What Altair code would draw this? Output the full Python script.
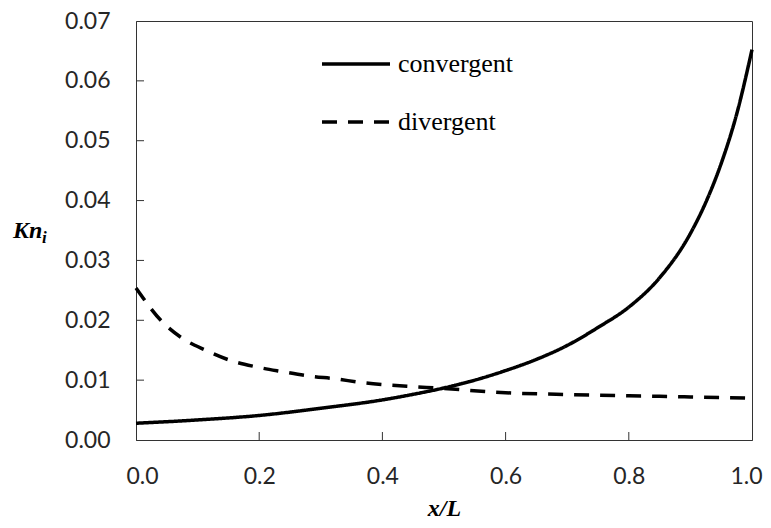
import altair as alt
import pandas as pd

# ---- data ----
series_names = ["convergent", "divergent"]

conv_x = [0.0, 0.1, 0.2, 0.3, 0.4, 0.45, 0.5, 0.55, 0.6, 0.65, 0.7, 0.75, 0.8,
          0.85, 0.9, 0.925, 0.95, 0.975, 1.0]
conv_y = [0.0028, 0.00335, 0.0041, 0.0053, 0.0067, 0.00763, 0.0087, 0.0100, 0.0116,
          0.01347, 0.0158, 0.0188, 0.0222, 0.0271, 0.0345, 0.0397, 0.0462, 0.0544, 0.0652]

div_x = [0.0, 0.043, 0.075, 0.113, 0.153, 0.196, 0.239, 0.280, 0.325, 0.366, 0.409,
         0.454, 0.50, 0.60, 0.70, 0.80, 0.90, 1.0]
div_y = [0.0254, 0.0197, 0.0170, 0.0150, 0.0133, 0.0122, 0.0114, 0.0107, 0.0102, 0.0096,
         0.0092, 0.0089, 0.0086, 0.0079, 0.0076, 0.0074, 0.0072, 0.0070]

y_ticks = [0.0, 0.01, 0.02, 0.03, 0.04, 0.05, 0.06, 0.07]
x_ticks = [0.0, 0.2, 0.4, 0.6, 0.8, 1.0]

df = pd.concat([
    pd.DataFrame({"x": conv_x, "y": conv_y, "series": series_names[0]}),
    pd.DataFrame({"x": div_x, "y": div_y, "series": series_names[1]}),
], ignore_index=True)

W, H = 616, 419
TICK = 8

xs = alt.Scale(domain=[0, 1], nice=False, zero=False)
ys = alt.Scale(domain=[0, 0.07], nice=False)

x_axis = alt.Axis(values=x_ticks, format=".1f", title="x/L", labelPadding=25,
                  labelFlush=True, labelFlushOffset=10, titlePadding=8,
                  titleFont="Liberation Serif", titleFontSize=24, titleFontWeight="bold",
                  titleFontStyle="italic", titleColor="black")
y_axis = alt.Axis(values=y_ticks, format=".2f", title=None, labelPadding=26,
                  labelFlush=False)

lines = alt.Chart(df).mark_line(color="black", strokeWidth=3.5, interpolate="monotone").encode(
    x=alt.X("x:Q", scale=xs, axis=x_axis),
    y=alt.Y("y:Q", scale=ys, axis=y_axis),
    strokeDash=alt.StrokeDash(
        "series:N",
        scale=alt.Scale(domain=series_names, range=[[1, 0], [15, 11]]),
        legend=alt.Legend(
            title=None, orient="none", legendX=184, legendY=30,
            symbolType="stroke", symbolSize=4624, symbolStrokeWidth=3.5,
            symbolStrokeColor="black", labelFont="Liberation Serif",
            labelFontSize=26, labelColor="black", labelOffset=6,
            clipHeight=26, rowPadding=32, padding=0, symbolOffset=0,
        ),
    ),
)

ytick_df = pd.DataFrame({"y": y_ticks[1:-1]})
xtick_df = pd.DataFrame({"x": x_ticks[1:-1]})

yticks = alt.Chart(ytick_df).mark_rule(color="#333", strokeWidth=1).encode(
    y=alt.Y("y:Q", scale=ys, axis=y_axis),
    x=alt.value(0), x2=alt.value(TICK),
)
xticks = alt.Chart(xtick_df).mark_rule(color="#333", strokeWidth=1).encode(
    x=alt.X("x:Q", scale=xs, axis=x_axis),
    y=alt.value(H), y2=alt.value(H - TICK),
)

kn = alt.Chart(pd.DataFrame({"t": ["Kn"]})).mark_text(
    font="Liberation Serif", fontSize=24, fontWeight="bold", fontStyle="italic",
    align="left", baseline="alphabetic", color="black",
).encode(x=alt.value(-123), y=alt.value(217), text="t:N")

sub_i = alt.Chart(pd.DataFrame({"t": ["i"]})).mark_text(
    font="Liberation Serif", fontSize=17, fontWeight="bold", fontStyle="italic",
    align="left", baseline="alphabetic", color="black",
).encode(x=alt.value(-94), y=alt.value(222), text="t:N")

chart = alt.layer(lines, yticks, xticks, kn, sub_i).properties(
    width=W, height=H, autosize="none",
    padding={"left": 128, "top": 13, "right": 11, "bottom": 80},
).configure_view(
    stroke="#333", strokeWidth=1,
).configure_axis(
    labelFont="Lato", labelFontSize=23, labelColor="#262626",
    ticks=False, tickSize=0, grid=False, domainColor="#333", domainWidth=1,
)

chart.save("out.html", embed_options={"renderer": "svg", "actions": False})
